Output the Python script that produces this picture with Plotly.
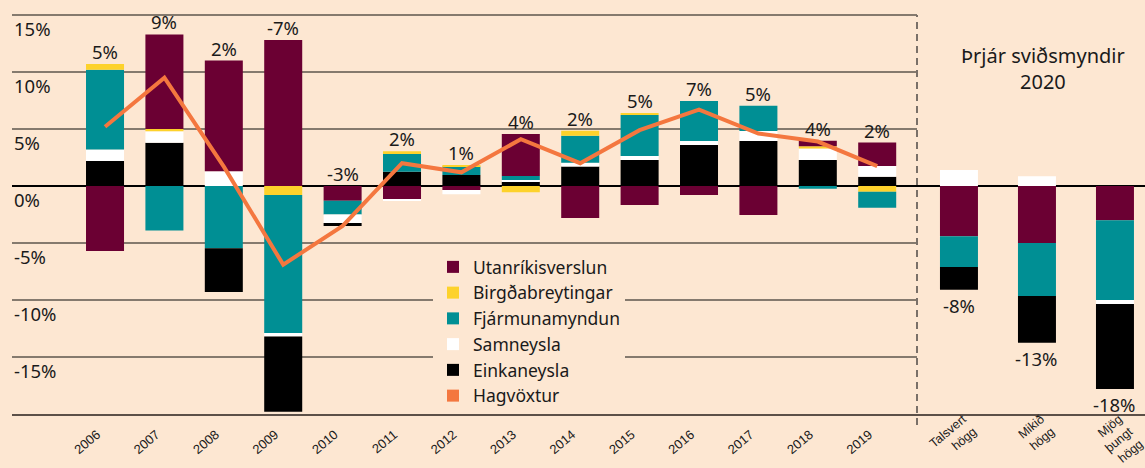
import plotly.graph_objects as go

# ---------------- data ----------------
years = ["2006", "2007", "2008", "2009", "2010", "2011", "2012", "2013", "2014",
         "2015", "2016", "2017", "2018", "2019"]
scenarios = ["Talsvert<br>högg", "Mikið<br>högg", "Mjög<br>þungt<br>högg"]

# contributions (percentage points); first 14 = years, last 3 = scenarios 2020
einkaneysla = [2.2, 3.8, -3.85, -6.6, -0.25, 1.25, 0.96, 0.38, 1.7, 2.28, 3.6, 3.95, 2.28, 0.82,
               -2.0, -4.1, -7.45]
samneysla = [1.0, 1.0, 1.3, -0.3, -0.75, -0.1, -0.38, 0.15, 0.35, 0.35, 0.35, 0.88, 1.0, 0.94,
             1.4, 0.85, -0.35]
fjarmunamyndun = [7.0, -3.9, -5.45, -12.1, -1.2, 1.55, 0.74, 0.35, 2.35, 3.6, 3.5, 2.2, -0.25, -1.4,
                  -2.7, -4.65, -7.0]
birgdabreytingar = [0.5, 0.2, 0.0, -0.8, 0.0, 0.25, 0.15, -0.55, 0.45, 0.15, 0.0, 0.0, 0.2, -0.5,
                    0.0, 0.0, 0.0]
utanrikisverslun = [-5.7, 8.3, 9.7, 12.8, -1.3, -1.15, -0.35, 3.68, -2.8, -1.67, -0.8, -2.55, 0.5, 2.05,
                    -4.4, -5.0, -3.0]
hagvoxtur = [5.2, 9.5, 1.7, -6.9, -3.5, 2.0, 1.2, 4.1, 2.0, 4.9, 6.7, 4.6, 3.9, 1.75]

year_labels = ["5%", "9%", "2%", "-7%", "-3%", "2%", "1%", "4%", "2%", "5%", "7%", "5%", "4%", "2%"]
scenario_labels = ["-8%", "-13%", "-18%"]

ytick_vals = [15, 10, 5, 0, -5, -10, -15]
ytick_text = ["15%", "10%", "5%", "0%", "-5%", "-10%", "-15%"]

# ---------------- style ----------------
BG = "#FDE7D2"
FONT = "Noto Sans"
TXT = "#1a1a1a"
colors = {
    "Utanríkisverslun": "#6B0033",
    "Birgðabreytingar": "#FDD22B",
    "Fjármunamyndun": "#008F94",
    "Samneysla": "#FFFFFF",
    "Einkaneysla": "#000000",
}
ORANGE = "#F4773F"

series = [  # bottom-up order for positive values
    ("Einkaneysla", einkaneysla, 5),
    ("Samneysla", samneysla, 4),
    ("Fjármunamyndun", fjarmunamyndun, 3),
    ("Birgðabreytingar", birgdabreytingar, 2),
    ("Utanríkisverslun", utanrikisverslun, 1),
]

n_y = len(years)
W, H = 1145, 468
L_MARGIN, R_MARGIN, T_MARGIN, B_MARGIN = 12, 0, 13, 54
plot_w = W - L_MARGIN - R_MARGIN
plot_h = H - T_MARGIN - B_MARGIN
sep_px = 917
dL = (sep_px - L_MARGIN) / plot_w
Y_RANGE = [-20, 15.176]

fig = go.Figure()

def add_bars(vals, name, rank, positive, show):
    col = colors[name]
    part = [(v if v > 0 else None) if positive else (v if v < 0 else None) for v in vals]
    fig.add_trace(go.Bar(
        x=years, y=part[:n_y], xaxis="x", yaxis="y", width=0.64,
        name=name, legendgroup=name, legendrank=rank, showlegend=show,
        marker=dict(color=col, line=dict(width=0)), hoverinfo="skip"))
    fig.add_trace(go.Bar(
        x=scenarios, y=part[n_y:], xaxis="x2", yaxis="y2", width=0.487,
        name=name, legendgroup=name, legendrank=rank, showlegend=False,
        marker=dict(color=col, line=dict(width=0)), hoverinfo="skip"))

# positive parts stack upwards Einkaneysla -> Utanríkisverslun
for name, vals, rank in series:
    add_bars(vals, name, rank, True, True)
# negative parts stack downwards Utanríkisverslun -> Einkaneysla
for name, vals, rank in reversed(series):
    add_bars(vals, name, rank, False, False)

# GDP growth line
fig.add_trace(go.Scatter(
    x=years, y=hagvoxtur, xaxis="x", yaxis="y", mode="lines",
    line=dict(color=ORANGE, width=4), showlegend=False, hoverinfo="skip"))
# legend entry for growth (square symbol like the original)
fig.add_trace(go.Bar(
    x=[None], y=[None], xaxis="x", yaxis="y", name="Hagvöxtur", legendrank=6,
    marker=dict(color=ORANGE, line=dict(width=0)), showlegend=True, hoverinfo="skip"))

annotations = []
# data labels
all_vals = [einkaneysla, samneysla, fjarmunamyndun, birgdabreytingar, utanrikisverslun]
for i, lab in enumerate(year_labels):
    top = sum(max(s[i], 0) for s in all_vals)
    annotations.append(dict(x=i, y=top, xref="x", yref="y", text=lab,
                            showarrow=False, yanchor="bottom", yshift=-2,
                            font=dict(family=FONT, size=18.5, color=TXT)))
for j, lab in enumerate(scenario_labels):
    k = n_y + j
    bot = sum(min(s[k], 0) for s in all_vals)
    annotations.append(dict(x=j, y=bot, xref="x2", yref="y2", text=lab,
                            showarrow=False, yanchor="top", yshift=-1,
                            font=dict(family=FONT, size=18.5, color=TXT)))
# y tick labels (placed just below each gridline)
for v, t in zip(ytick_vals, ytick_text):
    annotations.append(dict(x=0, y=v, xref="paper", yref="y", text=t, showarrow=False,
                            xanchor="left", yanchor="middle", yshift=-13,
                            font=dict(family=FONT, size=18.5, color=TXT)))
# scenario panel title
annotations.append(dict(x=(1043 - L_MARGIN) / plot_w, y=(H - B_MARGIN - 68.5) / plot_h,
                        xref="paper", yref="paper",
                        text="Þrjár sviðsmyndir<br>2020", showarrow=False,
                        xanchor="center", yanchor="middle",
                        font=dict(family=FONT, size=20, color=TXT)))

axis_common = dict(type="category", showline=True, linecolor="#5c5048", linewidth=2,
                   ticks="", tickangle=-40, showgrid=False, zeroline=False,
                   automargin=False)

fig.update_layout(
    width=W, height=H,
    margin=dict(l=L_MARGIN, r=R_MARGIN, t=T_MARGIN, b=B_MARGIN, autoexpand=False),
    paper_bgcolor=BG, plot_bgcolor=BG,
    barmode="relative",
    font=dict(family=FONT, color=TXT),
    xaxis=dict(domain=[0, dL], anchor="y", range=[-1.566, 13.67],
               ticklabelstandoff=6, ticklabelshift=-8,
               tickfont=dict(family="Liberation Sans", size=13, color=TXT), **axis_common),
    xaxis2=dict(domain=[dL, 1], anchor="y2", range=[-0.538, 2.385],
                ticklabelstandoff=-9, ticklabelshift=4,
                tickfont=dict(family="Liberation Sans", size=12.5, color=TXT), **axis_common),
    yaxis=dict(anchor="x", range=Y_RANGE, tickvals=[-20, -15, -10, -5, 0, 5, 10, 15],
               showticklabels=False, showgrid=True, gridcolor="#857a6e", gridwidth=1.5,
               zeroline=True, zerolinecolor="#000000", zerolinewidth=2, ticks="",
               automargin=False),
    yaxis2=dict(anchor="x2", range=Y_RANGE, showticklabels=False, showgrid=False,
                zeroline=True, zerolinecolor="#000000", zerolinewidth=2, ticks="",
                automargin=False),
    legend=dict(x=(433 - L_MARGIN) / plot_w, y=(H - B_MARGIN - 249) / plot_h,
                xanchor="left", yanchor="top",
                bgcolor=BG, font=dict(family=FONT, size=17.5, color=TXT),
                traceorder="normal", tracegroupgap=0),
    annotations=annotations,
    shapes=[dict(type="line", xref="paper", yref="paper", x0=dL, x1=dL,
                 y0=-11 / plot_h, y1=1 - 2 / plot_h,
                 line=dict(color="#7a7068", width=2, dash="7px,5px"))],
    showlegend=True,
)

fig.write_html("out.html")
